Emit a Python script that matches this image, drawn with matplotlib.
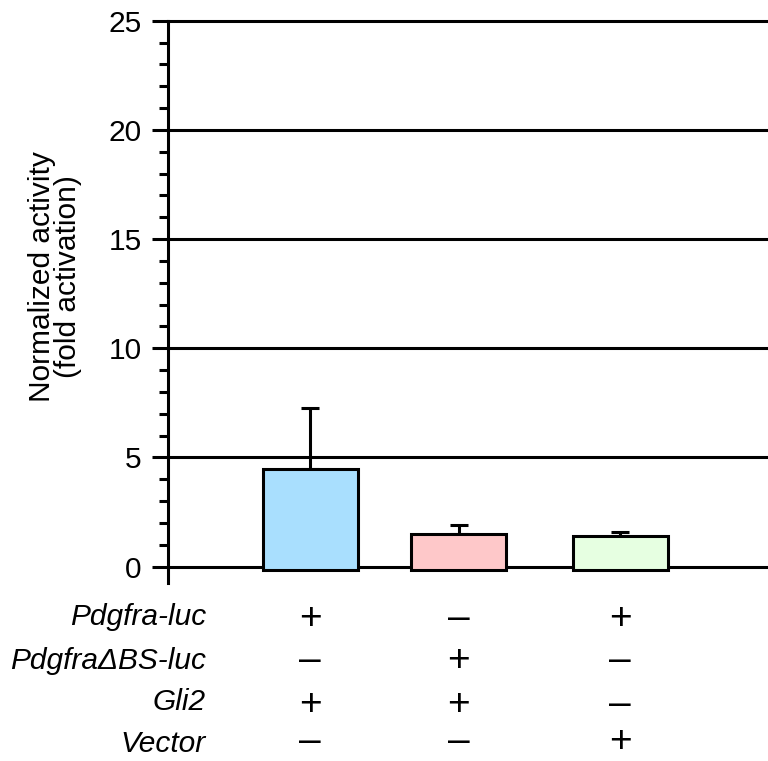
import matplotlib
matplotlib.use("Agg")
import matplotlib.pyplot as plt
from matplotlib.transforms import blended_transform_factory
from matplotlib.ticker import MultipleLocator

plt.rcParams['font.family'] = ['Liberation Sans', 'DejaVu Sans']

# data
bar_pos = [1.0, 1.96, 3.0]
means = [4.46, 1.49, 1.39]
err_up = [2.81, 0.40, 0.21]
bar_colors = ["#A9DFFE", "#FEC8C9", "#E6FFE1"]

row_labels = ["Pdgfra-luc", "Pdgfra\u0394BS-luc", "Gli2", "Vector"]
row_signs = [
    ["+", "\u2013", "+"],
    ["\u2013", "+", "\u2013"],
    ["+", "+", "\u2013"],
    ["\u2013", "\u2013", "+"],
]
yticks = [0, 5, 10, 15, 20, 25]

W, H = 768, 761
fig = plt.figure(figsize=(W / 100, H / 100), dpi=100)
ax = fig.add_axes([167.5 / W, 1 - 583 / H, 1 - 167.5 / W, (583 - 20.7) / H])

lw = 2.2
for v in yticks:
    ax.axhline(v, color="black", lw=lw, clip_on=False, zorder=1)

ax.bar(bar_pos, [m + 0.15 for m in means], bottom=-0.15, width=0.613,
       color=bar_colors, edgecolor="black", linewidth=lw, zorder=3)
ax.errorbar(bar_pos, means, yerr=[[0, 0, 0], err_up], fmt="none",
            ecolor="black", elinewidth=lw, capsize=6.8, capthick=lw, zorder=2)

ax.set_xlim(0.08, 3.955)
ax.set_ylim(-0.75, 25)
ax.set_yticks(yticks)
ax.yaxis.set_minor_locator(MultipleLocator(1))
ax.set_xticks([])
for s in ["top", "right", "bottom"]:
    ax.spines[s].set_visible(False)
ax.spines["left"].set_linewidth(lw)
ax.tick_params(axis="y", which="major", direction="out", length=11.5, width=lw,
               labelsize=21.5, pad=7)
ax.tick_params(axis="y", which="minor", direction="out", length=6.5, width=lw)

fig.text(55 / W, 1 - 277 / H, "Normalized activity\n(fold activation)",
         rotation=90, ha="center", va="center", multialignment="center",
         fontsize=21.5, linespacing=0.92)

# condition table under the bars
label_base = [625, 669, 710, 752]
sign_base = [629, 671, 715, 752]
trans = blended_transform_factory(ax.transData, fig.transFigure)
for i, lab in enumerate(row_labels):
    fig.text(206 / W, 1 - label_base[i] / H, lab, ha="right", va="baseline",
             fontsize=21.5, style="italic")
    for j, s in enumerate(row_signs[i]):
        ax.text(bar_pos[j], 1 - sign_base[i] / H, s, transform=trans,
                ha="center", va="baseline", fontsize=28, clip_on=False)

fig.savefig("out.png", dpi=100)
